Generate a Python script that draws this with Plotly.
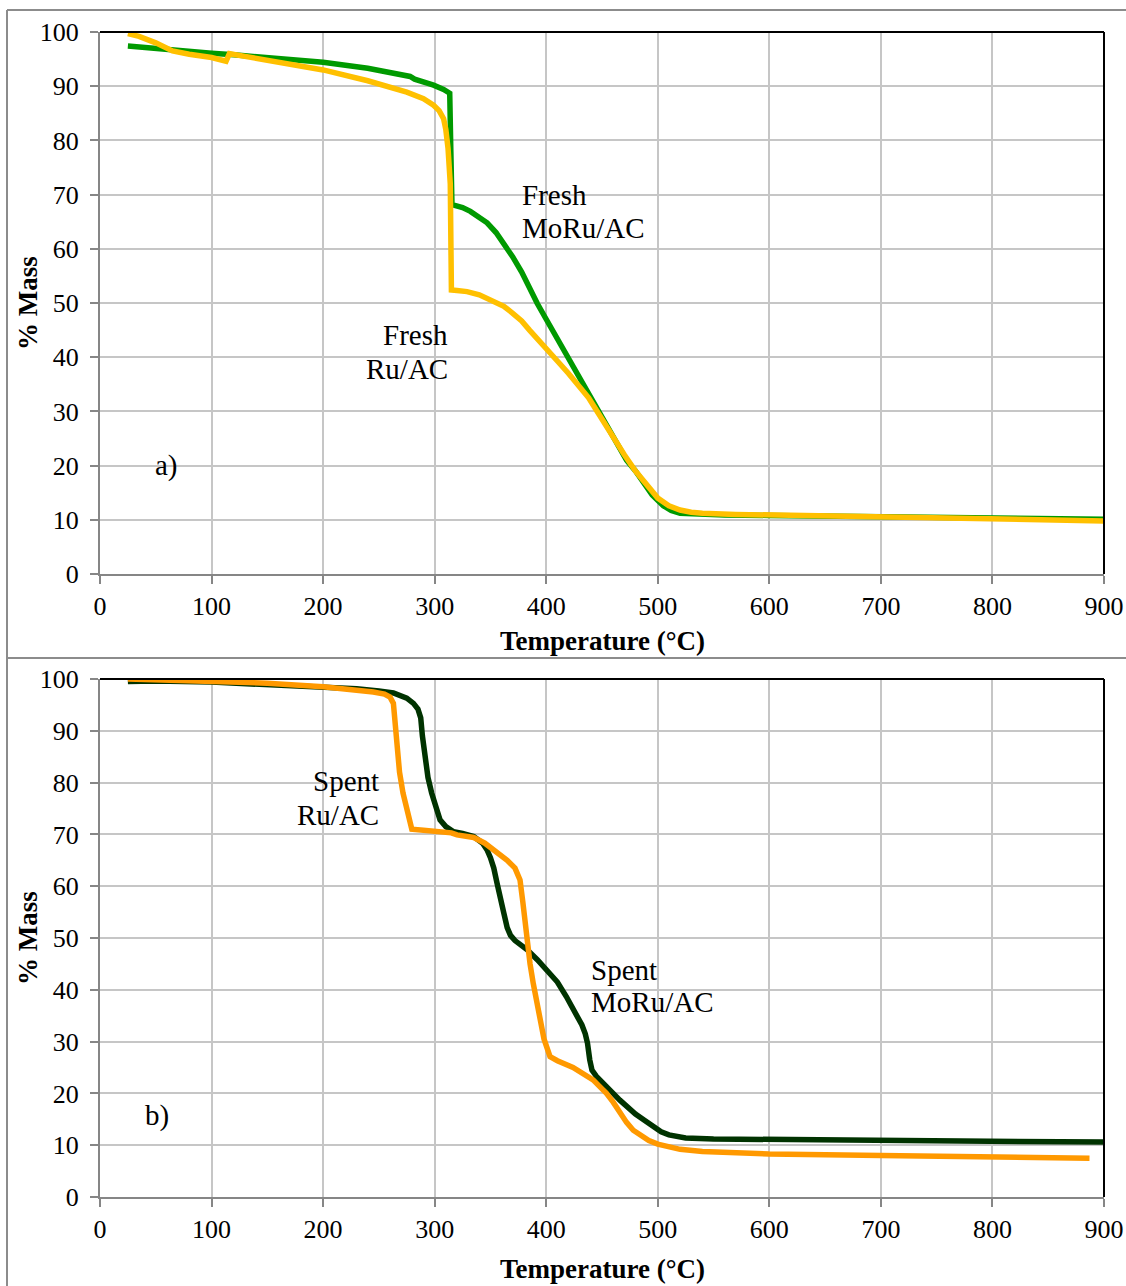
import plotly.graph_objects as go

# ---------------- data ----------------
fresh_moru_T = [25, 40, 60, 80, 100, 120, 150, 200, 240, 270, 278, 282, 290, 299, 308, 312, 313.5,
                314.5, 315.5, 318, 325, 332, 340, 347, 355, 362, 370, 378, 385, 392, 400, 415, 430,
                440, 450, 458, 465, 472, 480, 488, 495, 505, 512, 520, 540, 560, 600, 650, 700, 750,
                800, 850, 900]
fresh_moru_m = [97.4, 97.1, 96.7, 96.4, 96.1, 95.8, 95.3, 94.4, 93.3, 92.2, 91.8, 91.3, 90.9, 90.2,
                89.4, 89.0, 88.7, 78, 68.2, 68.0, 67.6, 66.9, 65.9, 64.8, 63.0, 61.0, 58.5, 55.7,
                52.6, 49.9, 47, 41.5, 36, 32.5, 29, 26, 23.5, 21, 19, 16.8, 14.6, 12.6, 11.7, 11.2,
                11.0, 10.9, 10.8, 10.7, 10.6, 10.5, 10.4, 10.3, 10.1]

fresh_ru_T = [25, 35, 50, 65, 80, 100, 113, 114.5, 116, 130, 160, 200, 240, 275, 290, 299, 304, 308,
              310, 312, 314, 314.5, 315, 320, 329, 340, 352, 362, 370, 378, 385, 392, 400, 410, 420,
              430, 438, 445, 452, 460, 470, 480, 490, 500, 510, 520, 530, 540, 570, 600, 650, 700,
              750, 800, 850, 880, 900]
fresh_ru_m = [99.7, 99.2, 98.0, 96.5, 95.9, 95.3, 94.6, 95.5, 96.0, 95.5, 94.5, 93.0, 91.0, 88.9,
              87.7, 86.5, 85.5, 84.0, 82, 78.5, 72, 60, 52.4, 52.3, 52.1, 51.5, 50.5, 49.4, 48.1,
              46.7, 45, 43.3, 41.5, 39.3, 37, 34.6, 32.5, 30.2, 27.8, 25, 22, 19, 16.3, 14, 12.6,
              11.8, 11.4, 11.2, 11.0, 10.9, 10.7, 10.6, 10.4, 10.2, 10.0, 9.9, 9.8]

spent_moru_T = [25, 50, 100, 150, 200, 230, 250, 263, 275, 281, 285, 287.5, 289, 291.3, 294, 297.3,
                301, 304.8, 310, 317, 325, 335, 343, 347, 350, 353, 356, 359, 362, 365, 368, 372,
                378, 383, 392, 400, 410, 418, 426, 432, 435, 437, 439, 441, 445, 450, 455, 460, 466,
                473, 480, 488, 495, 503, 510, 518, 525, 550, 600, 700, 800, 900]
spent_moru_m = [99.5, 99.6, 99.4, 99.0, 98.5, 98.1, 97.7, 97.3, 96.3, 95.3, 94.2, 92.5, 89, 84.4,
                81, 78, 75, 72.8, 71.5, 70.5, 70.2, 69.6, 68.3, 67, 65.5, 63.5, 60.5, 57, 54.8, 52,
                50.5, 49.5, 48.6, 47.7, 45.8, 43.8, 41.5, 38.7, 35.8, 33.2, 31.5, 29.7, 26.5, 24.5,
                23.3, 22.3, 21.3, 20, 18.7, 17.2, 16, 14.8, 13.7, 12.6, 12.0, 11.6, 11.4, 11.2, 11.1,
                11.0, 10.8, 10.6]

spent_ru_T = [25, 50, 100, 150, 200, 230, 245, 255, 260, 263, 264.5, 265.8, 268.5, 271.6, 275,
              279.5, 290, 305, 315, 320, 335, 345, 355, 365, 372, 376.5, 379, 382.5, 385.5, 388.4,
              391, 394.4, 398, 403.4, 410, 424, 434, 442, 448, 454, 460, 466, 472, 478, 485, 492,
              500, 510, 520, 540, 570, 600, 700, 800, 887]
spent_ru_m = [100, 99.8, 99.5, 99.2, 98.5, 98.0, 97.5, 97.1, 96.5, 95.3, 91, 86.9, 82, 78, 74.5,
              71.0, 70.8, 70.6, 70.3, 69.9, 69.4, 68.3, 66.7, 65, 63.5, 61.2, 57, 49.6, 45, 41.2,
              38, 34.2, 30.5, 27.1, 26.3, 25.0, 23.8, 22.6, 21.3, 20.0, 18.3, 16.2, 14.4, 12.9,
              11.8, 10.9, 10.2, 9.6, 9.2, 8.8, 8.5, 8.3, 8.0, 7.7, 7.5]

x_ticks = [0, 100, 200, 300, 400, 500, 600, 700, 800, 900]
y_ticks = [0, 10, 20, 30, 40, 50, 60, 70, 80, 90, 100]

# ---------------- layout helpers ----------------
W, H = 1126, 1286
FONT = "Liberation Serif"


def px(x):
    return x / W


def py(y):
    return 1 - y / H


fig = go.Figure()
fig.add_trace(go.Scatter(x=fresh_moru_T, y=fresh_moru_m, mode="lines", name="Fresh MoRu/AC",
                         line=dict(color="#009A00", width=5.5), xaxis="x", yaxis="y"))
fig.add_trace(go.Scatter(x=fresh_ru_T, y=fresh_ru_m, mode="lines", name="Fresh Ru/AC",
                         line=dict(color="#FFC000", width=5.5), xaxis="x", yaxis="y"))
fig.add_trace(go.Scatter(x=spent_moru_T, y=spent_moru_m, mode="lines", name="Spent MoRu/AC",
                         line=dict(color="#003300", width=5.5), xaxis="x2", yaxis="y2"))
fig.add_trace(go.Scatter(x=spent_ru_T, y=spent_ru_m, mode="lines", name="Spent Ru/AC",
                         line=dict(color="#FF9900", width=5.5), xaxis="x2", yaxis="y2"))

xdom = [px(100), px(1104)]
common_x = dict(range=[0, 900], tickvals=x_ticks, showgrid=True, gridcolor="#C6C6C6", gridwidth=2,
                showline=True, linecolor="#868686", linewidth=2, ticks="outside", ticklen=8,
                tickwidth=2, tickcolor="#868686", zeroline=False, ticklabelstandoff=0,
                tickfont=dict(family=FONT, size=26, color="black"), domain=xdom, fixedrange=True,
                automargin=False)
common_y = dict(range=[0, 100], tickvals=y_ticks, showgrid=True, gridcolor="#C6C6C6", gridwidth=2,
                showline=True, linecolor="#868686", linewidth=2, ticks="outside", ticklen=8,
                tickwidth=2, tickcolor="#868686", zeroline=False, ticklabelstandoff=6,
                tickfont=dict(family=FONT, size=26, color="black"), fixedrange=True,
                automargin=False)

fig.update_layout(
    width=W, height=H, autosize=False,
    margin=dict(l=0, r=0, t=0, b=0, pad=0, autoexpand=False),
    paper_bgcolor="white", plot_bgcolor="white",
    showlegend=False,
    xaxis=dict(common_x, anchor="y"),
    yaxis=dict(common_y, anchor="x", domain=[py(574), py(32)]),
    xaxis2=dict(common_x, anchor="y2"),
    yaxis2=dict(common_y, anchor="x2", domain=[py(1197), py(679)]),
)

shapes = []
# white text boxes (hide gridlines, below traces)
for (x0, y0, x1, y1) in [(135, 436, 224, 517), (520, 165, 665, 247), (338, 305, 452, 395),
                         (125, 1085, 240, 1163), (240, 752, 382, 838), (588, 945, 765, 1028)]:
    shapes.append(dict(type="rect", xref="paper", yref="paper", x0=px(x0), x1=px(x1),
                       y0=py(y1), y1=py(y0), fillcolor="white", line=dict(width=0), layer="between"))
# black top/right plot borders
for xa, ya in [("x", "y"), ("x2", "y2")]:
    shapes.append(dict(type="line", xref=xa + " domain", yref=ya + " domain", x0=0, x1=1, y0=1, y1=1,
                       line=dict(color="black", width=2), layer="above"))
    shapes.append(dict(type="line", xref=xa + " domain", yref=ya + " domain", x0=1, x1=1, y0=0, y1=1,
                       line=dict(color="black", width=2), layer="above"))
# outer frame
frame = dict(color="#8C8C8C", width=2)
shapes.append(dict(type="line", xref="paper", yref="paper", x0=px(7), x1=px(7), y0=0, y1=py(10), line=frame))
shapes.append(dict(type="line", xref="paper", yref="paper", x0=px(7), x1=1, y0=py(10), y1=py(10), line=frame))
shapes.append(dict(type="line", xref="paper", yref="paper", x0=px(7), x1=1, y0=py(658), y1=py(658), line=frame))
fig.update_layout(shapes=shapes)

ann = []
tf = dict(family=FONT, size=29, color="black")


def lab(text, x, y, xa, ya, xanchor):
    ann.append(dict(text=text, x=x, y=y, xref=xa, yref=ya, xanchor=xanchor, yanchor="middle",
                    showarrow=False, font=tf))


# top panel labels
lab("Fresh", 376.5, 70.0, "x", "y", "left")
lab("MoRu/AC", 376.5, 63.9, "x", "y", "left")
lab("Fresh", 313.7, 44.1, "x", "y", "right")
lab("Ru/AC", 313.7, 37.8, "x", "y", "right")
lab("a)", 60, 20.1, "x", "y", "center")
# bottom panel labels
lab("Spent", 252, 80.3, "x2", "y2", "right")
lab("Ru/AC", 252, 73.7, "x2", "y2", "right")
lab("Spent", 438.4, 43.8, "x2", "y2", "left")
lab("MoRu/AC", 438.4, 37.6, "x2", "y2", "left")
lab("b)", 51, 15.8, "x2", "y2", "center")

# axis titles
bf = dict(family=FONT, size=27, color="black")
for yc in (641, 1269):
    ann.append(dict(text="<b>Temperature (°C)</b>", x=px(602), y=py(yc), xref="paper", yref="paper",
                    xanchor="center", yanchor="middle", showarrow=False, font=bf))
for yc in (303, 938):
    ann.append(dict(text="<b>% Mass</b>", x=px(28), y=py(yc), xref="paper", yref="paper",
                    xanchor="center", yanchor="middle", showarrow=False, font=bf, textangle=-90))
fig.update_layout(annotations=ann)

fig.write_html(
    "out.html",
    config={"displayModeBar": False},
    post_script="document.body.style.margin='0px';document.body.style.padding='0px';"
                "document.documentElement.style.overflow='hidden';",
)
